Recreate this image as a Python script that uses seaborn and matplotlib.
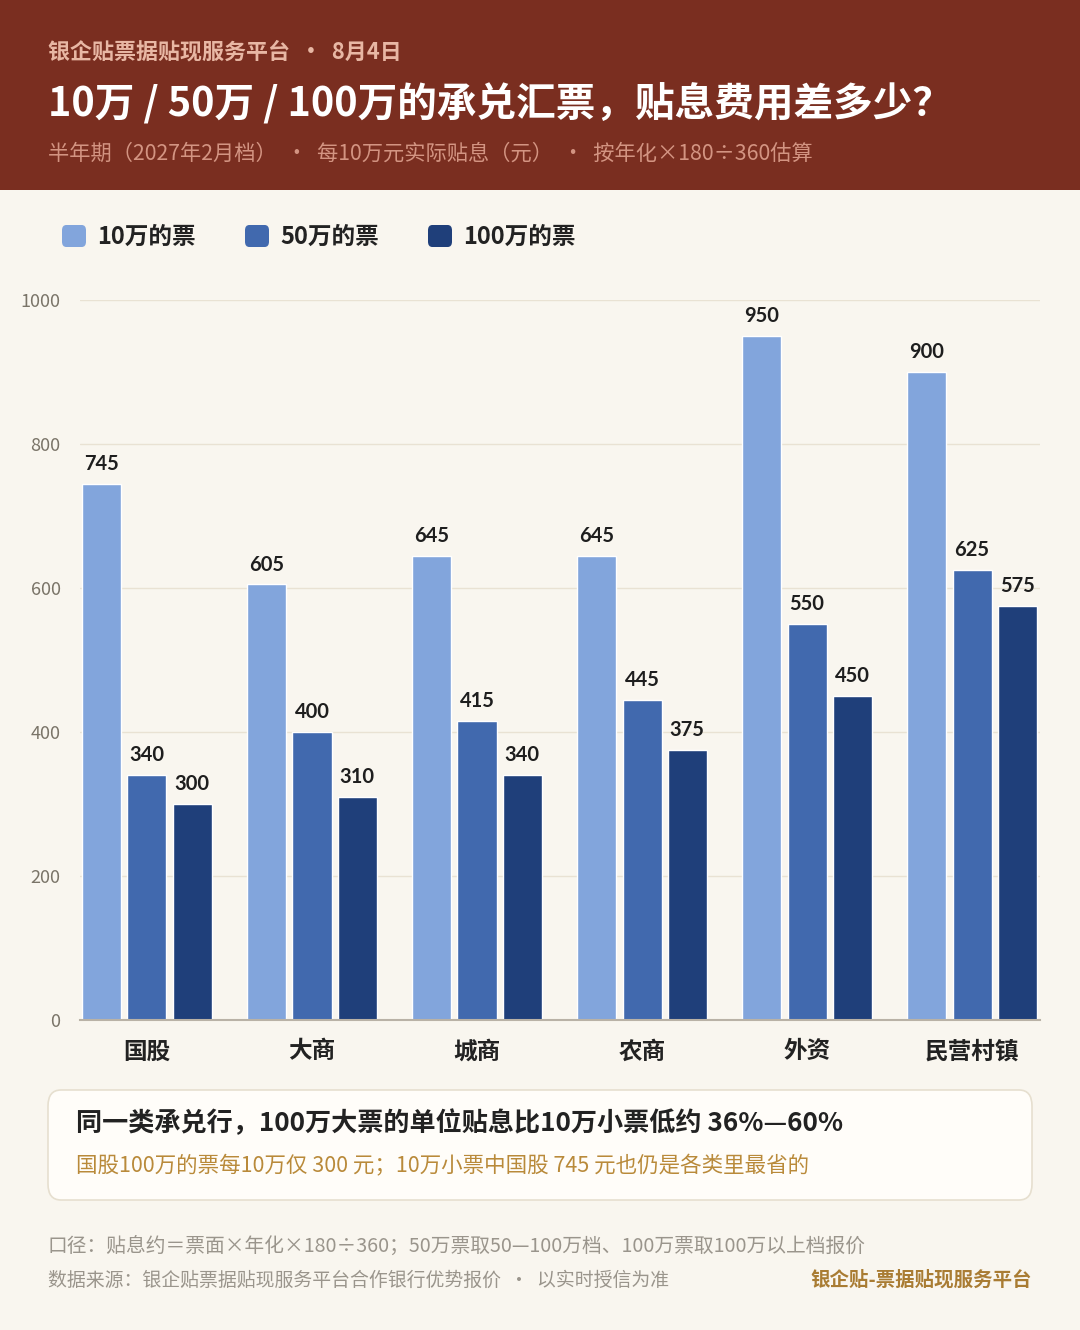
import matplotlib
matplotlib.use("Agg")
import matplotlib.pyplot as plt
from matplotlib.patches import Rectangle, FancyBboxPatch
import seaborn as sns
import pandas as pd

categories = ["国股", "大商", "城商", "农商", "外资", "民营村镇"]
series = ["10万的票", "50万的票", "100万的票"]
v10 = [745, 605, 645, 645, 950, 900]
v50 = [340, 400, 415, 445, 550, 625]
v100 = [300, 310, 340, 375, 450, 575]
yticks = [0, 200, 400, 600, 800, 1000]

colors = ["#82A5DC", "#4169AE", "#1F3F7A"]
BG = "#F9F6EF"
HEAD = "#7A2E20"

rows = []
for i, c in enumerate(categories):
    for s, vals in zip(series, [v10, v50, v100]):
        rows.append({"cat": c, "series": s, "val": vals[i]})
df = pd.DataFrame(rows)

sns.set_theme(style="white")
plt.rcParams["font.family"] = ["Noto Sans CJK SC", "DejaVu Sans"]

fig = plt.figure(figsize=(10.8, 13.3), dpi=100)
fig.patch.set_facecolor(BG)

# header band
fig.patches.append(Rectangle((0, 1 - 190 / 1330), 1, 190 / 1330, transform=fig.transFigure,
                             facecolor=HEAD, edgecolor="none", zorder=0))

def fy(px):
    return 1 - px / 1330

def fx(px):
    return px / 1080

fig.text(fx(48), fy(52), "银企贴票据贴现服务平台  ·  8月4日", color="#E8B7A4", fontsize=15.8,
         fontweight="bold", va="center", ha="left")
fig.text(fx(48), fy(105), "10万 / 50万 / 100万的承兑汇票，贴息费用差多少？", color="white",
         fontsize=28.5, fontweight="bold", va="center", ha="left")
fig.text(fx(48), fy(154), "半年期（2027年2月档）  ·  每10万元实际贴息（元）  ·  按年化×180÷360估算",
         color="#D39482", fontsize=15.3, va="center", ha="left")

# legend
leg_x = [62, 245, 428]
for x, s, col in zip(leg_x, series, colors):
    fig.patches.append(FancyBboxPatch((fx(x), fy(247)), fx(24), 22 / 1330,
                                      boxstyle="round,pad=0,rounding_size=0.004",
                                      transform=fig.transFigure, facecolor=col,
                                      edgecolor="none"))
    fig.text(fx(x + 35), fy(237), s, color="#222222", fontsize=17, fontweight="bold",
             va="center", ha="left")

ax = fig.add_axes([fx(80), 1 - 1020 / 1330, fx(960), 720 / 1330])
ax.set_facecolor(BG)
sns.barplot(data=df, x="cat", y="val", hue="series", palette=colors, width=0.82, gap=0.135,
            ax=ax, legend=False, saturation=1, zorder=3)
ax.set_xlim(-0.406, 5.412)
ax.set_ylim(0, 1000)
ax.set_yticks(yticks)
ax.set_yticklabels([str(t) for t in yticks], color="#7A7468", fontsize=13)
ax.tick_params(axis="y", length=0, pad=14)
ax.tick_params(axis="x", length=0, pad=14)
ax.set_xticks(range(len(categories)))
ax.set_xticklabels(categories, fontsize=17, fontweight="bold", color="#222222")
ax.set_xlabel("")
ax.set_ylabel("")
for t in yticks[1:]:
    ax.axhline(t, color="#E9E2D3", lw=1, zorder=1)
for sp in ["top", "right", "left"]:
    ax.spines[sp].set_visible(False)
ax.spines["bottom"].set_color("#B9B2A6")
ax.spines["bottom"].set_linewidth(1.5)
ax.spines["bottom"].set_zorder(5)

for cont in ax.containers:
    ax.bar_label(cont, labels=[f"{int(v)}" for v in cont.datavalues], padding=7,
                 fontsize=14.5, fontweight="bold", color="#1E1E1E",
                 family=["Lato", "DejaVu Sans"])

# callout box
fig.patches.append(FancyBboxPatch((fx(48), fy(1200)), fx(984), 110 / 1330,
                                  boxstyle="round,pad=0,rounding_size=0.012",
                                  transform=fig.transFigure, facecolor="#FFFDF9",
                                  edgecolor="#E6DFCF", linewidth=1.2))
fig.text(fx(76), fy(1124), "同一类承兑行，100万大票的单位贴息比10万小票低约 36%—60%",
         color="#222222", fontsize=18.8, fontweight="bold", va="center", ha="left")
fig.text(fx(76), fy(1166), "国股100万的票每10万仅 300 元；10万小票中国股 745 元也仍是各类里最省的",
         color="#B98A3A", fontsize=15.5, va="center", ha="left")

# footer
fig.text(fx(48), fy(1246), "口径：贴息约＝票面×年化×180÷360；50万票取50—100万档、100万票取100万以上档报价",
         color="#9A958C", fontsize=14.2, va="center", ha="left")
fig.text(fx(48), fy(1280), "数据来源：银企贴票据贴现服务平台合作银行优势报价  ·  以实时授信为准",
         color="#9A958C", fontsize=13.6, va="center", ha="left")
fig.text(fx(1032), fy(1280), "银企贴-票据贴现服务平台", color="#A97C33", fontsize=14,
         fontweight="bold", va="center", ha="right")

fig.savefig("out.png", dpi=100, facecolor=BG)
